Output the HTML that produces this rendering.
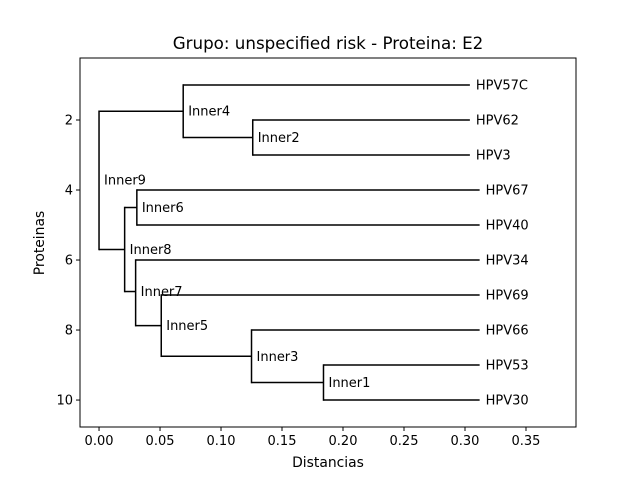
<!DOCTYPE html>
<html><head><meta charset="utf-8"><style>
html,body{margin:0;padding:0;background:#fff;}
svg{display:block;font-family:"DejaVu Sans","Liberation Sans",sans-serif;}
</style></head><body>
<svg id="chart" width="640" height="480" viewBox="0 0 640 480">
<text x="328" y="49" font-size="16.7" text-anchor="middle">Grupo: unspecified risk - Proteina: E2</text>
<g id="marks"></g>
<g id="xticks"></g>
<g id="yticks"></g>
<rect x="80" y="58" width="496" height="369" fill="none" stroke="#000" stroke-width="1"/>
<text x="328" y="467" font-size="13.9" text-anchor="middle">Distancias</text>
<text transform="translate(44,243) rotate(-90)" font-size="13.9" text-anchor="middle">Proteinas</text>
</svg>
<script>
const leafNames = ["HPV57C","HPV62","HPV3","HPV67","HPV40","HPV34","HPV69","HPV66","HPV53","HPV30"];
const leafY = [1,2,3,4,5,6,7,8,9,10];
const leafX = [0.304,0.304,0.304,0.312,0.312,0.312,0.312,0.312,0.312,0.312];
const nodeNames = ["Inner9","Inner4","Inner2","Inner8","Inner6","Inner7","Inner5","Inner3","Inner1"];
const nodeX = [0.0,0.069,0.126,0.021,0.031,0.030,0.051,0.125,0.184];
const nodeY = [3.72,1.75,2.5,5.7,4.5,6.9,7.875,8.75,9.5];
const nodeChildren = [["Inner4","Inner8"],["HPV57C","Inner2"],["HPV62","HPV3"],["Inner6","Inner7"],["HPV67","HPV40"],["HPV34","Inner5"],["HPV69","Inner3"],["HPV66","Inner1"],["HPV53","HPV30"]];
const xTicks = [0,0.05,0.10,0.15,0.20,0.25,0.30,0.35];
const xTickLabels = ["0.00","0.05","0.10","0.15","0.20","0.25","0.30","0.35"];
const yTicks = [2,4,6,8,10];

const X0=80,X1=576,Y0=58,Y1=427;
const xmin=-0.0156,xmax=0.391,ymin=0.229,ymax=10.77;
function sx(v){return X0+(v-xmin)/(xmax-xmin)*(X1-X0);}
function sy(v){return Y0+(v-ymin)/(ymax-ymin)*(Y1-Y0);}
const NS="http://www.w3.org/2000/svg";
function mk(tag,attrs,parent,txt){const e=document.createElementNS(NS,tag);for(const k in attrs)e.setAttribute(k,attrs[k]);if(txt!==undefined)e.textContent=txt;parent.appendChild(e);return e;}
const marks=document.getElementById('marks');
function pos(name){let i=leafNames.indexOf(name);if(i>=0)return {x:leafX[i],y:leafY[i]};i=nodeNames.indexOf(name);return {x:nodeX[i],y:nodeY[i]};}
nodeNames.forEach((n,i)=>{
  const kids=nodeChildren[i].map(pos);
  const ys=kids.map(k=>k.y);
  const v=mk('line',{x1:sx(nodeX[i]),x2:sx(nodeX[i]),y1:sy(Math.min(...ys)),y2:sy(Math.max(...ys)),stroke:'#000','stroke-width':1.5,'stroke-linecap':'square'},marks);
  
  
  kids.forEach((k,j)=>{
    const h=mk('line',{x1:sx(nodeX[i]),x2:sx(k.x),y1:sy(k.y),y2:sy(k.y),stroke:'#000','stroke-width':1.5},marks);
    
    
  });
  const t=mk('text',{x:sx(nodeX[i])+5,y:sy(nodeY[i])+4.5,'font-size':13},marks,n);
  
  
});
leafNames.forEach((n,i)=>{
  const t=mk('text',{x:sx(leafX[i])+6,y:sy(leafY[i])+4.5,'font-size':13},marks,n);
  
  
});
const xg=document.getElementById('xticks');
xTicks.forEach((v,i)=>{
  const l=mk('line',{x1:sx(v),x2:sx(v),y1:Y1,y2:Y1+4,stroke:'#000'},xg);
  
  
  const t=mk('text',{x:sx(v),y:Y1+18,'font-size':13,'text-anchor':'middle'},xg,xTickLabels[i]);
  
  
});
const yg=document.getElementById('yticks');
yTicks.forEach(v=>{
  const l=mk('line',{x1:X0-4,x2:X0,y1:sy(v),y2:sy(v),stroke:'#000'},yg);
  
  
  const t=mk('text',{x:X0-7,y:sy(v)+4.5,'font-size':13,'text-anchor':'end'},yg,String(v));
  
  
});
</script>
</body></html>
